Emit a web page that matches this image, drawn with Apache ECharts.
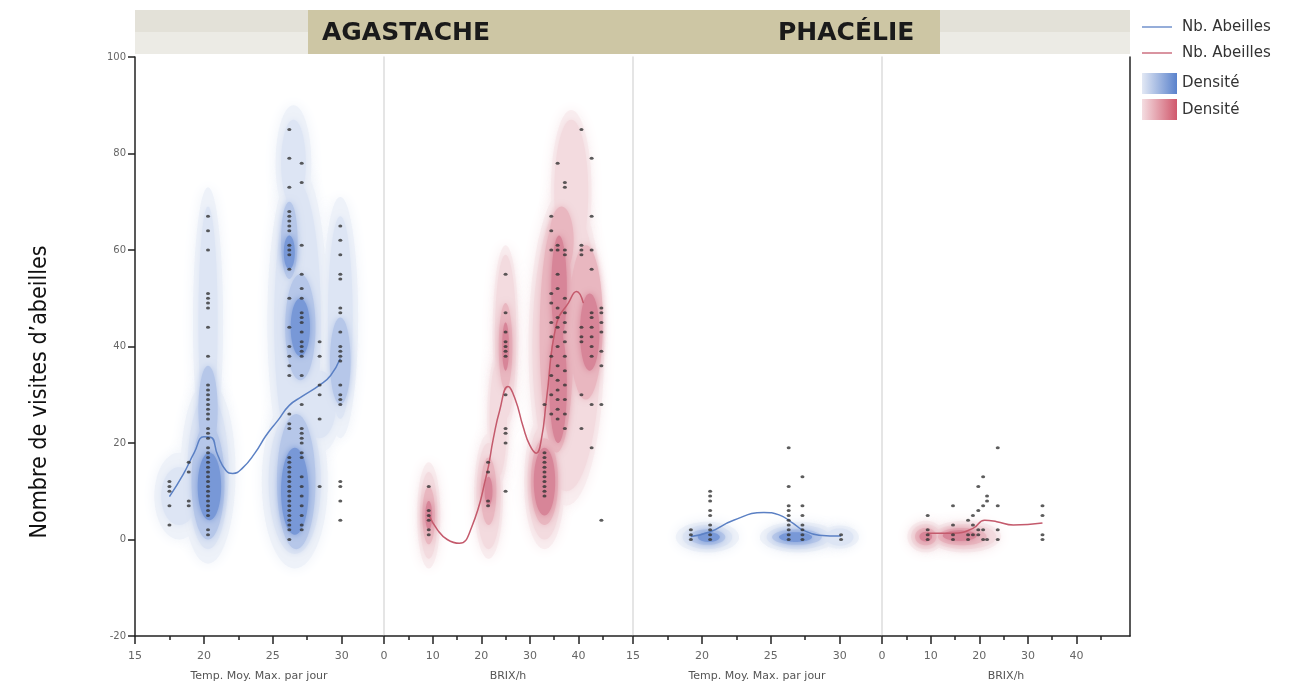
<!DOCTYPE html>
<html>
<head>
<meta charset="utf-8">
<script src="https://cdn.jsdelivr.net/npm/echarts@6/dist/echarts.min.js"></script>
<style>
  html, body { margin: 0; padding: 0; background: #fff; }
  #chart { width: 1316px; height: 684px; }
</style>
</head>
<body>
<div id="chart"></div>
<script>
// ---- data ----
// y ticks
const yTicks = { min: -20, max: 100, step: 20 };
// x ticks (major labelled, minor unlabelled)
const tempMajor = [15, 20, 25, 30];
const tempMinor = [17.5, 22.5, 27.5];
const brixMajor = [0, 10, 20, 30, 40];
const brixMinor = [5, 15, 25, 35, 45];

// dots: [x, [y values]] per column
const agaTempDots = [
  [17.5, [12, 11, 10, 7, 3]],
  [18.9, [16, 14, 8, 7]],
  [20.3, [67, 64, 60, 51, 50, 49, 48, 44, 38, 32, 31, 30, 29, 28, 27, 26, 25, 23, 22, 21, 19, 18, 17, 16, 15, 14, 13, 12, 11, 10, 9, 8, 7, 6, 5, 2, 1]],
  [26.2, [85, 79, 73, 68, 67, 66, 65, 64, 61, 60, 59, 56, 50, 44, 40, 38, 36, 34, 26, 24, 23, 17, 16, 15, 14, 13, 12, 11, 10, 9, 8, 7, 6, 5, 4, 3, 2, 0]],
  [27.1, [78, 74, 61, 55, 52, 50, 47, 46, 45, 43, 41, 40, 39, 38, 34, 28, 23, 22, 21, 20, 18, 17, 13, 11, 9, 7, 5, 3, 2]],
  [28.4, [41, 38, 32, 30, 25, 11]],
  [29.9, [65, 62, 59, 55, 54, 48, 47, 43, 40, 39, 38, 37, 32, 30, 29, 28, 12, 11, 8, 4]]
];
const agaBrixDots = [
  [9.2, [11, 6, 5, 4, 2, 1]],
  [21.4, [16, 14, 8, 7]],
  [25.0, [55, 47, 43, 41, 40, 39, 38, 30, 23, 22, 20, 10]],
  [33.0, [28, 18, 17, 16, 15, 14, 13, 12, 11, 10, 9]],
  [34.4, [67, 64, 60, 51, 49, 45, 42, 38, 34, 30, 26]],
  [35.7, [78, 61, 60, 55, 52, 48, 46, 44, 40, 36, 33, 31, 29, 27, 25]],
  [37.2, [74, 73, 60, 59, 50, 47, 45, 43, 41, 38, 35, 32, 29, 26, 23]],
  [40.6, [85, 61, 60, 59, 44, 42, 41, 30, 23]],
  [42.7, [79, 67, 60, 56, 47, 46, 44, 42, 40, 38, 28, 19]],
  [44.7, [48, 47, 45, 43, 39, 36, 28, 4]]
];
const phaTempDots = [
  [19.2, [2, 1, 0]],
  [20.6, [10, 9, 8, 6, 5, 3, 2, 1, 0]],
  [26.3, [19, 11, 7, 6, 5, 4, 3, 2, 1, 0]],
  [27.3, [13, 7, 5, 3, 2, 1, 0]],
  [30.1, [1, 0]]
];
const phaBrixDots = [
  [9.4, [5, 2, 1, 0]],
  [14.6, [7, 3, 1, 0]],
  [17.7, [4, 1, 0]],
  [18.7, [5, 3, 1]],
  [19.8, [11, 6, 2, 1]],
  [20.8, [13, 7, 2, 0]],
  [21.6, [9, 8, 0]],
  [23.8, [19, 7, 2, 0]],
  [33.0, [7, 5, 1, 0]]
];

// smoothed "Nb. Abeilles" curves
const agaTempLine = [[17.5, 8.9], [18.5, 13.5], [19.3, 18], [20.0, 21.3], [20.5, 21.2], [21.0, 17.5], [21.6, 14.3], [22.1, 13.7], [22.8, 14.8], [23.7, 17.9], [24.5, 21.5], [25.4, 24.8], [26.2, 27.8], [27.1, 29.6], [28.4, 32.0], [29.2, 34.0], [29.9, 37.5]];
const agaBrixLine = [[9.2, 5.1], [11, 2], [13, 0], [15.5, -0.8], [18, 2.5], [21, 13], [22.5, 21], [23.8, 26.8], [25.5, 31.7], [27, 29], [28.6, 23.4], [30, 19.5], [31.3, 17.9], [32.4, 21], [33.4, 28.9], [35.5, 44.8], [37.9, 49.0], [39.6, 51.4], [41, 49]];
const phaTempLine = [[19.2, 0.6], [20.6, 1.6], [22.3, 4.0], [24.5, 5.6], [25.6, 5.1], [26.6, 3.4], [27.3, 2.0], [28.5, 0.9], [30.1, 0.7]];
const phaBrixLine = [[9.4, 1.3], [14.6, 1.3], [18.7, 2.3], [21.1, 4.0], [23.6, 3.7], [27, 3.0], [33.0, 3.4]];

// density contours, [cx, cy, rx, ry] per level (faint halo -> dark core)
const agaTempDens = [
  [[18.2, 9, 1.8, 9], [20.3, 14, 2.0, 19], [20.3, 45, 1.1, 28], [26.6, 12, 2.4, 18], [26.8, 45, 2.2, 33], [26.5, 78, 1.3, 12], [29.9, 46, 1.3, 25], [28.4, 28, 1.6, 10]],
  [[18.2, 9, 1.3, 6], [20.3, 14, 1.5, 16], [20.3, 45, 0.7, 24], [26.6, 12, 1.9, 15], [26.8, 45, 1.7, 29], [26.5, 78, 0.9, 9], [29.9, 46, 0.9, 21], [28.4, 28, 1.2, 7]],
  [[20.3, 12, 1.2, 12], [20.3, 27, 0.7, 9], [26.2, 62, 0.6, 8], [27.0, 44, 1.1, 11], [26.7, 12, 1.4, 14], [29.9, 37, 0.75, 9]],
  [[20.4, 11, 0.85, 7], [26.2, 59.5, 0.4, 3.5], [27.0, 44, 0.7, 6], [26.6, 10, 1.0, 9]]
];
const agaBrixDens = [
  [[9.2, 5, 2.4, 11], [21.5, 9, 3.0, 13], [23.5, 25, 2.3, 14], [25, 42, 2.7, 19], [33, 12, 4.2, 14], [37.5, 40, 7.8, 33], [38.5, 72, 4.2, 17]],
  [[9.2, 5, 1.8, 9], [21.5, 9, 2.5, 11], [23.5, 25, 1.8, 12], [25, 42, 2.2, 17], [33, 12, 3.5, 12], [37.5, 40, 7, 30], [38.5, 72, 3.5, 15]],
  [[9.2, 5, 1.3, 6], [21.5, 10, 1.6, 7], [25, 40, 1.4, 9], [33, 12, 2.8, 9], [35.5, 42, 3.5, 24], [41.5, 45, 3.5, 16], [36.5, 62, 2.5, 7]],
  [[9.2, 5, 0.7, 3], [21.5, 10, 0.8, 3], [25, 40, 0.7, 5], [33, 12, 2.2, 7], [35.8, 32, 1.8, 12], [36, 52, 1.6, 11], [42.3, 43, 2.0, 8]]
];
const phaTempDens = [
  [[20.4, 0.5, 2.3, 3.2], [27, 0.5, 2.8, 3.2], [30, 0.5, 1.4, 2.4]],
  [[20.4, 0.5, 1.8, 2.5], [27, 0.5, 2.3, 2.5], [30, 0.5, 1.0, 1.8]],
  [[20.4, 0.5, 1.3, 1.6], [26.9, 0.5, 1.8, 1.6]],
  [[20.5, 0.5, 0.8, 1.0], [26.8, 0.5, 1.2, 1.0]]
];
const phaBrixDens = [
  [[9, 0.6, 3.8, 3.3], [17, 0.6, 7.5, 3.3]],
  [[9, 0.6, 3.0, 2.6], [17, 0.6, 6.5, 2.6]],
  [[9, 0.6, 2.2, 1.8], [16.5, 0.6, 5, 1.8]],
  [[9, 0.6, 1.3, 1.0], [16, 0.8, 3.5, 1.1]]
];

const blueShades = ['#eef2f9', '#dde5f4', '#b6c7e9', '#7898d7'];
const redShades = ['#f9edef', '#f3dbdf', '#e9b7c0', '#d78598'];
const blueLine = '#5b80c4';
const redLine = '#c45a6c';

// ---- chart ----
const chart = echarts.init(document.getElementById('chart'));
const FONT = 'DejaVu Sans';
const panelLeft = [135, 384, 633, 882];
const panelW = 248;

const flat = cols => cols.flatMap(([x, ys]) => ys.map(y => [x, y]));

function blob(color, blur) {
  return function (params, api) {
    const cx = api.value(0), cy = api.value(1), rx = api.value(2), ry = api.value(3);
    const pts = [];
    for (let i = 0; i < 60; i++) {
      const a = i / 60 * Math.PI * 2;
      pts.push(api.coord([cx + rx * Math.cos(a), cy + ry * Math.sin(a)]));
    }
    return { type: 'polygon', shape: { points: pts }, style: { fill: color, shadowBlur: blur, shadowColor: color } };
  };
}

const temp = { min: 15, max: 33, major: tempMajor, minor: tempMinor, name: 'Temp. Moy. Max. par jour' };
const brix = { min: 0, max: 51, major: brixMajor, minor: brixMinor, name: 'BRIX/h' };
const axDefs = [temp, brix, temp, brix];
const tickStyle = { color: '#222', width: 1.5 };

const xAxis = axDefs.map((d, i) => ({
  type: 'value', gridIndex: i, min: d.min, max: d.max,
  name: d.name, nameLocation: 'middle', nameGap: 35,
  nameTextStyle: { fontFamily: FONT, fontSize: 11, color: '#555' },
  axisLine: { onZero: false, lineStyle: tickStyle },
  axisTick: { length: 8, customValues: d.major, lineStyle: tickStyle },
  axisLabel: { fontFamily: FONT, fontSize: 11, color: '#666', margin: 15, customValues: d.major },
  splitLine: { show: false }
}));
// second axis per panel carrying the short minor ticks
axDefs.forEach((d, i) => xAxis.push({
  type: 'value', gridIndex: i, min: d.min, max: d.max, position: 'bottom',
  axisLine: { show: false, onZero: false },
  axisTick: { show: true, length: 4, customValues: d.minor, lineStyle: tickStyle },
  axisLabel: { show: false }, splitLine: { show: false }
}));

const yAxis = [0, 1, 2, 3].map(i => ({
  type: 'value', gridIndex: i, min: yTicks.min, max: yTicks.max, interval: yTicks.step,
  axisLine: { show: true, onZero: false, lineStyle: { color: i === 0 ? '#222' : '#dcdcdc', width: 1.5 } },
  axisTick: { show: i === 0, length: 7, lineStyle: tickStyle },
  axisLabel: { show: i === 0, fontFamily: FONT, fontSize: 10, color: '#666', margin: 9 },
  splitLine: { show: false }
}));
yAxis.push({
  type: 'value', gridIndex: 3, position: 'right', min: yTicks.min, max: yTicks.max,
  axisLine: { show: true, onZero: false, lineStyle: tickStyle },
  axisTick: { show: false }, axisLabel: { show: false }, splitLine: { show: false }
});

const panels = [
  { dots: agaTempDots, line: agaTempLine, dens: agaTempDens, shades: blueShades, color: blueLine },
  { dots: agaBrixDots, line: agaBrixLine, dens: agaBrixDens, shades: redShades, color: redLine },
  { dots: phaTempDots, line: phaTempLine, dens: phaTempDens, shades: blueShades, color: blueLine },
  { dots: phaBrixDots, line: phaBrixLine, dens: phaBrixDens, shades: redShades, color: redLine }
];

const series = [];
panels.forEach((p, i) => {
  p.dens.forEach((lvl, k) => {
    series.push({
      type: 'custom', xAxisIndex: i, yAxisIndex: i, silent: true, z: 1 + k * 0.1,
      renderItem: blob(p.shades[k], k === 0 ? 14 : 7), data: lvl
    });
  });
  series.push({
    type: 'line', xAxisIndex: i, yAxisIndex: i, data: p.line, smooth: 0.5,
    showSymbol: false, z: 4, lineStyle: { color: p.color, width: 1.5 }
  });
  series.push({
    type: 'scatter', xAxisIndex: i, yAxisIndex: i, data: flat(p.dots), z: 5,
    symbolSize: [4, 3], itemStyle: { color: '#333' }
  });
});

const legendText = { fontFamily: FONT, fontSize: 15, fill: '#333', textVerticalAlign: 'middle' };
const option = {
  animation: false,
  grid: panelLeft.map(l => ({ left: l, width: panelW, top: 57, bottom: 48, outerBoundsMode: 'none' })),
  xAxis, yAxis, series,
  graphic: [
    { type: 'rect', shape: { x: 135, y: 10, width: 995, height: 22 }, style: { fill: '#e3e1d8' }, silent: true },
    { type: 'rect', shape: { x: 135, y: 32, width: 995, height: 22 }, style: { fill: '#ecebe5' }, silent: true },
    { type: 'rect', shape: { x: 308, y: 10, width: 632, height: 44 }, style: { fill: '#cdc6a4' }, silent: true },
    { type: 'text', x: 322, y: 33, style: { text: 'AGASTACHE', fontFamily: FONT, fontWeight: 'bold', fontSize: 25, fill: '#1a1a1a', textVerticalAlign: 'middle' } },
    { type: 'text', x: 778, y: 33, style: { text: 'PHACÉLIE', fontFamily: FONT, fontWeight: 'bold', fontSize: 25, fill: '#1a1a1a', textVerticalAlign: 'middle' } },
    { type: 'text', x: 40, y: 392, rotation: Math.PI / 2,
      style: { text: 'Nombre de visites d\u2019abeilles', fontFamily: 'DejaVu Sans Condensed, DejaVu Sans', fontSize: 23, fill: '#111', textAlign: 'center', textVerticalAlign: 'middle' } },
    { type: 'line', shape: { x1: 1142, y1: 27, x2: 1172, y2: 27 }, style: { stroke: blueLine, lineWidth: 1.3 } },
    { type: 'text', x: 1182, y: 27, style: Object.assign({ text: 'Nb. Abeilles' }, legendText) },
    { type: 'line', shape: { x1: 1142, y1: 53, x2: 1172, y2: 53 }, style: { stroke: redLine, lineWidth: 1.3 } },
    { type: 'text', x: 1182, y: 53, style: Object.assign({ text: 'Nb. Abeilles' }, legendText) },
    { type: 'rect', shape: { x: 1142, y: 73, width: 35, height: 21 },
      style: { fill: new echarts.graphic.LinearGradient(0, 0, 1, 0, [{ offset: 0, color: '#e2e8f4' }, { offset: 1, color: '#5a82cc' }]) } },
    { type: 'text', x: 1182, y: 83, style: Object.assign({ text: 'Densité' }, legendText) },
    { type: 'rect', shape: { x: 1142, y: 99, width: 35, height: 21 },
      style: { fill: new echarts.graphic.LinearGradient(0, 0, 1, 0, [{ offset: 0, color: '#f4dde1' }, { offset: 1, color: '#d0586c' }]) } },
    { type: 'text', x: 1182, y: 110, style: Object.assign({ text: 'Densité' }, legendText) }
  ]
};
chart.setOption(option);
</script>
</body>
</html>
